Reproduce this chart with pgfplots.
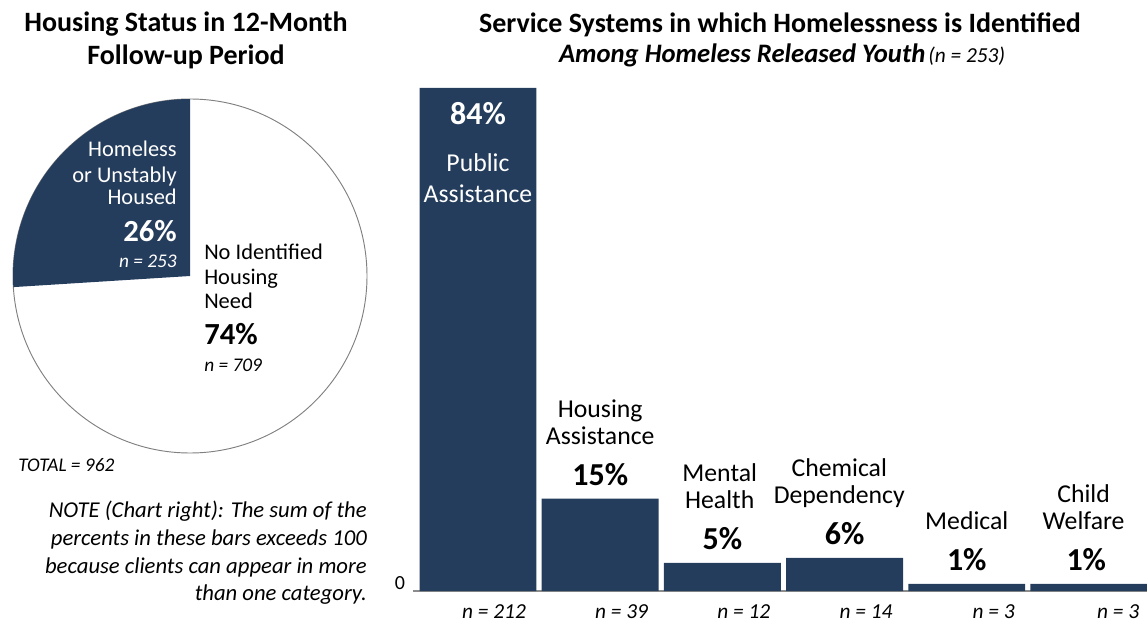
\documentclass[border=0pt]{standalone}
\usepackage{fontspec}
\setmainfont{Carlito}
\usepackage{pgfplots}
\pgfplotsset{compat=1.18}
\definecolor{navy}{HTML}{253D5C}

% font sizes
\newcommand\titlefont{\fontsize{21}{25}\selectfont\bfseries}
\newcommand\labfont{\fontsize{19.3}{23}\selectfont}
\newcommand\pctfont{\fontsize{24}{28}\selectfont\bfseries}
\newcommand\nfont{\fontsize{16}{19}\selectfont\itshape}
\newcommand\pielab{\fontsize{16.8}{20}\selectfont}
\newcommand\piepct{\fontsize{23}{27}\selectfont\bfseries}
\newcommand\pien{\fontsize{14.5}{17}\selectfont\itshape}
\newcommand\notefont{\fontsize{17}{20}\selectfont\itshape}

% pie shares (percent)
\def\homeless{26}
\def\housed{74}

\begin{document}
\begin{tikzpicture}
\path[use as bounding box] (0,0) rectangle (860.25pt,466.5pt);

% --- titles ---
\node[anchor=base, font=\titlefont, inner sep=0] at (139.5pt,442.5pt) {Housing Status in 12-Month};
\node[anchor=base, font=\titlefont, inner sep=0] at (139.5pt,417.75pt) {Follow-up Period};
\node[anchor=base, font=\titlefont, inner sep=0] at (585pt,441.75pt) {Service Systems in which Homelessness is Identified};
\node[anchor=base, inner sep=0] at (586.5pt,419.25pt)
  {{\fontsize{20}{24}\selectfont\bfseries\itshape Among Homeless Released Youth} {\fontsize{16}{19}\selectfont\itshape (n = 253)}};

% --- pie ---
\begin{axis}[at={(142.5pt,259.5pt)}, anchor=center, scale only axis,
  width=265.5pt, height=265.5pt, xmin=-1, xmax=1, ymin=-1, ymax=1,
  hide axis, clip=false]
  \draw[black!50, line width=0.7pt] (axis cs:0,0) circle[radius=132.75pt];
  \fill[navy] (axis cs:0,0) -- (axis cs:0,1)
    arc[start angle=90, delta angle={\homeless*3.6}, radius=132.75pt] -- cycle;
\end{axis}

% pie labels
\begin{scope}[every node/.style={inner sep=0, text=white}]
\node[anchor=base east, font=\pielab] at (132.75pt,348.75pt) {Homeless};
\node[anchor=base east, font=\pielab] at (132.75pt,329.25pt) {or Unstably};
\node[anchor=base east, font=\pielab] at (132.75pt,312.75pt) {Housed};
\node[anchor=base east, font=\piepct] at (132.75pt,285pt) {26\%};
\node[anchor=base east, font=\pien] at (132.75pt,265.5pt) {n = 253};
\end{scope}
\begin{scope}[every node/.style={inner sep=0}]
\node[anchor=base west, font=\pielab] at (153pt,271.5pt) {No Identified};
\node[anchor=base west, font=\pielab] at (153pt,252.75pt) {Housing};
\node[anchor=base west, font=\pielab] at (153pt,234.75pt) {Need};
\node[anchor=base west, font=\piepct] at (153pt,207.75pt) {74\%};
\node[anchor=base west, font=\pien] at (153pt,187.5pt) {n = 709};

\node[anchor=base west, font=\fontsize{14.5}{17}\selectfont\itshape] at (13.5pt,112.5pt) {TOTAL = 962};
\node[anchor=base east, font=\notefont] at (275.25pt,78pt) {NOTE (Chart right): The sum of the};
\node[anchor=base east, font=\notefont] at (275.25pt,57.4pt) {percents in these bars exceeds 100};
\node[anchor=base east, font=\notefont] at (275.25pt,36.75pt) {because clients can appear in more};
\node[anchor=base east, font=\notefont] at (275.25pt,16.1pt) {than one category.};
\end{scope}

% --- bars ---
\begin{axis}[at={(309.75pt,23.25pt)}, anchor=south west, scale only axis,
  width=550.5pt, height=377.25pt,
  xmin=-0.532, xmax=5.475, ymin=0, ymax=83.8,
  axis x line*=bottom, axis y line=none,
  x axis line style={draw=black!45, line width=0.8pt},
  xtick=\empty, ytick=\empty,
  ybar, bar width=0.957, clip=false,
  every node/.style={inner sep=0}]
  \addplot[fill=navy, draw=none] coordinates {
    (0,83.8) (1,15.4) (2,4.7) (3,5.5) (4,1.2) (5,1.2)};

  % label inside the tallest bar
  \node[anchor=base, font=\pctfont, text=white] at (axis cs:0,83.8) [yshift=-27.75pt] {84\%};
  \node[anchor=base, font=\labfont, text=white] at (axis cs:0,83.8) [yshift=-62.8pt] {Public};
  \node[anchor=base, font=\labfont, text=white] at (axis cs:0,83.8) [yshift=-86.25pt] {Assistance};

  % labels above the other bars
  \node[anchor=base, font=\labfont] at (axis cs:1,15.4) [yshift=60.75pt] {Housing};
  \node[anchor=base, font=\labfont] at (axis cs:1,15.4) [yshift=40.5pt] {Assistance};
  \node[anchor=base, font=\pctfont] at (axis cs:1,15.4) [yshift=10pt] {15\%};

  \node[anchor=base, font=\labfont] at (axis cs:2,4.7) [yshift=60.75pt, xshift=-2pt] {Mental};
  \node[anchor=base, font=\labfont] at (axis cs:2,4.7) [yshift=40.5pt, xshift=-2pt] {Health};
  \node[anchor=base, font=\pctfont] at (axis cs:2,4.7) [yshift=10pt] {5\%};

  \node[anchor=base, font=\labfont] at (axis cs:3,5.5) [yshift=60.75pt, xshift=-4pt] {Chemical};
  \node[anchor=base, font=\labfont] at (axis cs:3,5.5) [yshift=40.5pt, xshift=-4pt] {Dependency};
  \node[anchor=base, font=\pctfont] at (axis cs:3,5.5) [yshift=10pt] {6\%};

  \node[anchor=base, font=\labfont] at (axis cs:4,1.2) [yshift=40.5pt] {Medical};
  \node[anchor=base, font=\pctfont] at (axis cs:4,1.2) [yshift=10pt] {1\%};

  \node[anchor=base, font=\labfont] at (axis cs:5,1.2) [yshift=60.75pt, xshift=-4pt] {Child};
  \node[anchor=base, font=\labfont] at (axis cs:5,1.2) [yshift=40.5pt, xshift=-4pt] {Welfare};
  \node[anchor=base, font=\pctfont] at (axis cs:5,1.2) [yshift=10pt, xshift=-2pt] {1\%};

  % zero label and counts
  \node[anchor=base east, font=\fontsize{15}{18}\selectfont] at (axis cs:-0.532,0) [xshift=-2.5pt, yshift=1pt] {0};
  \node[anchor=base east, font=\nfont] at (axis cs:0.43,0) [yshift=-20.25pt] {n = 212};
  \node[anchor=base east, font=\nfont] at (axis cs:1.43,0) [yshift=-20.25pt] {n = 39};
  \node[anchor=base east, font=\nfont] at (axis cs:2.43,0) [yshift=-20.25pt] {n = 12};
  \node[anchor=base east, font=\nfont] at (axis cs:3.43,0) [yshift=-20.25pt] {n = 14};
  \node[anchor=base east, font=\nfont] at (axis cs:4.43,0) [yshift=-20.25pt] {n = 3};
  \node[anchor=base east, font=\nfont] at (axis cs:5.45,0) [yshift=-20.25pt] {n = 3};
\end{axis}
\end{tikzpicture}
\end{document}
